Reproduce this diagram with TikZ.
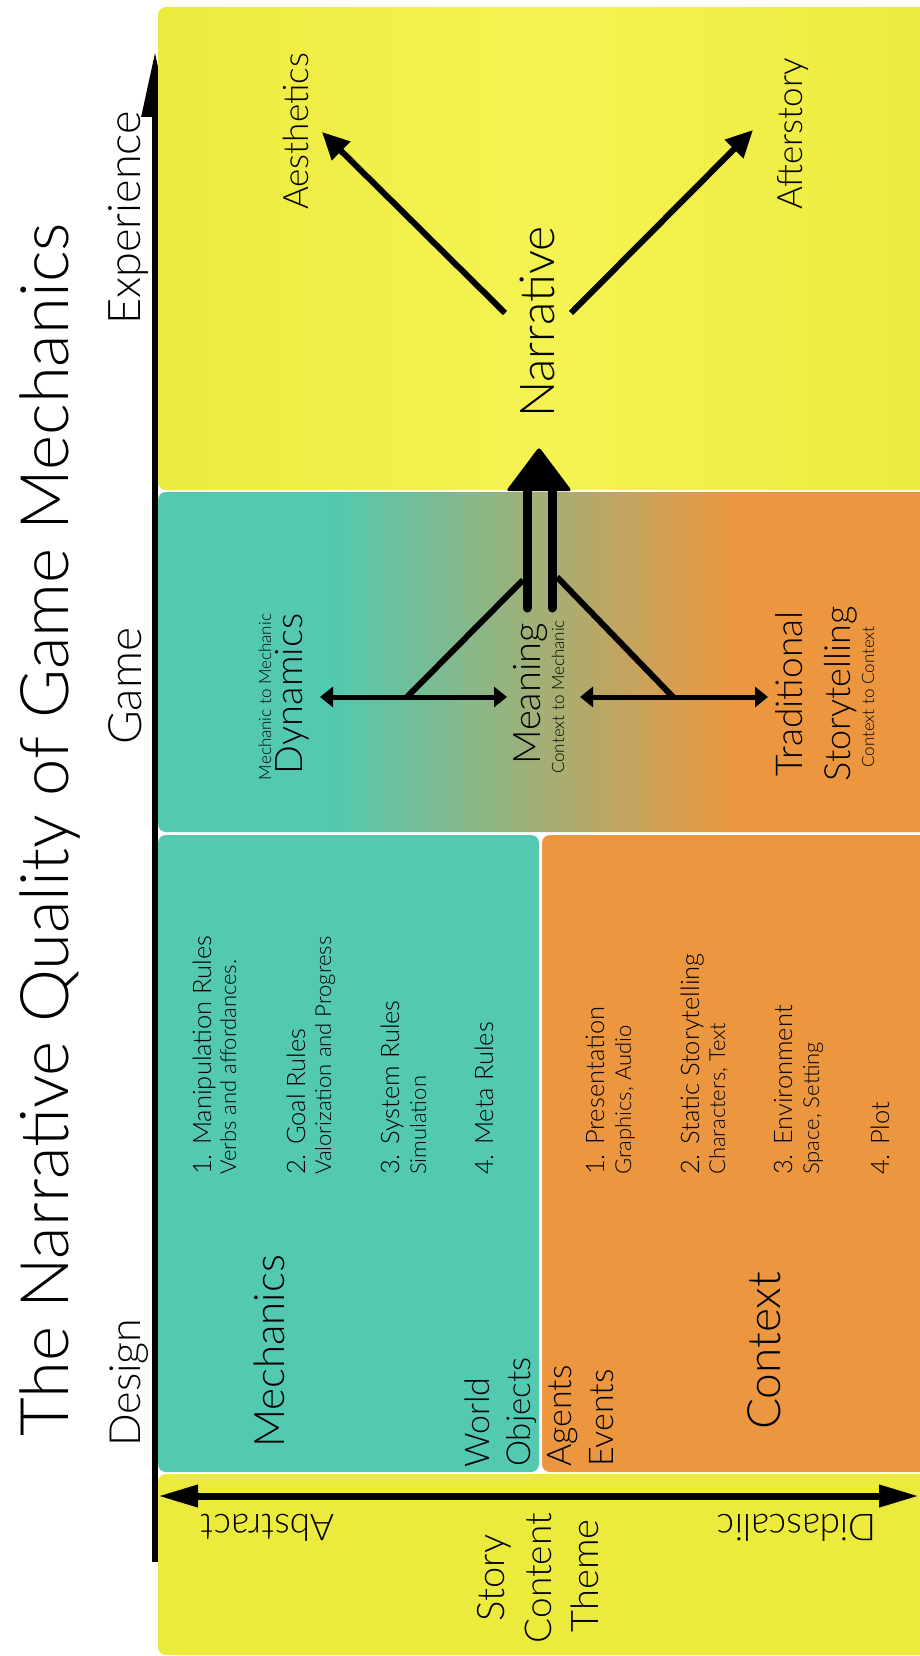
\documentclass[tikz,border=0pt]{standalone}
\usepackage{fontspec}
\setmainfont{Lato Light}
\usepackage{xcolor}
\usetikzlibrary{arrows.meta}
\definecolor{ylw}{RGB}{237,234,62}
\definecolor{ylwlight}{RGB}{245,243,82}
\definecolor{mechteal}{RGB}{82,201,176}
\definecolor{ctxorange}{RGB}{236,151,64}
\pgfdeclarehorizontalshading{yellowband}{100bp}{color(0bp)=(ylw); color(25bp)=(ylw); color(50bp)=(ylwlight); color(75bp)=(ylw); color(100bp)=(ylw)}
\pgfdeclarehorizontalshading{tealtoorange}{100bp}{color(0bp)=(mechteal); color(36bp)=(mechteal); color(62bp)=(ctxorange); color(100bp)=(ctxorange)}
\newcommand{\fsz}[1]{\fontsize{#1}{#1}\selectfont}

\begin{document}
\begin{tikzpicture}[x=1pt,y=-1pt,
  vitem/.style={rotate=90,inner sep=0pt,anchor=base west},
  vlabel/.style={rotate=90,inner sep=0pt,anchor=base},
  flow/.style={line width=6pt,-{Triangle[length=27pt,width=25pt]}},
  link/.style={line width=5pt,{Triangle[length=13pt,width=20pt]}-{Triangle[length=13pt,width=20pt]}}]
  \useasboundingbox (0,0) rectangle (919,1656);
  \fill[white] (0,0) rectangle (919,1656);
  \coordinate (axbot) at (155,1562);
  \coordinate (axtop) at (155,52);
  \draw[line width=6pt,-{Triangle[length=65pt,width=26pt]}] (axbot) -- (axtop);
  \shade[shading=yellowband,rounded corners=8pt] (158,7) rectangle (935,490);
  \shade[shading=tealtoorange,rounded corners=8pt] (158,492) rectangle (935,832);
  \fill[mechteal,rounded corners=8pt] (158,835) rectangle (539,1472);
  \fill[ctxorange,rounded corners=8pt] (542,835) rectangle (935,1472);
  \fill[ylw,rounded corners=8pt] (158,1474) rectangle (935,1655);
  \coordinate (abs) at (158,1496);
  \coordinate (did) at (919,1496);
  \draw[line width=7pt,{Triangle[length=40pt,width=21pt]}-{Triangle[length=40pt,width=21pt]}] (abs) -- (did);

  \node[vitem,font=\fsz{67}] (title) at (68,1437) {The Narrative Quality of Game Mechanics};
  \node[vitem,font=\fsz{43}] (design) at (140,1447) {Design};
  \node[vitem,font=\fsz{46}] (game) at (141,745) {Game};
  \node[vitem,font=\fsz{45}] (experience) at (140,325) {Experience};

  \node[vitem,font=\fsz{35}] (aesthetics) at (308,210) {Aesthetics};
  \node[vitem,font=\fsz{35}] (afterstory) at (802,210) {Afterstory};
  \node[vitem,font=\fsz{48}] (narrative) at (554,418) {Narrative};
  \coordinate (nl) at (505,313);
  \coordinate (nr) at (571,313);
  \coordinate (aestip) at (322,132);
  \coordinate (afttip) at (753,130);
  \draw[flow] (nl) -- (aestip);
  \draw[flow] (nr) -- (afttip);

  \node[vlabel,font=\fsz{17}] (mtm) at (271,697) {Mechanic to Mechanic};
  \node[vlabel,font=\fsz{38}] (dynamics) at (302,694) {Dynamics};
  \node[vlabel,font=\fsz{38}] (meaning) at (540,694) {Meaning};
  \node[vlabel,font=\fsz{17}] (ctm) at (564,697) {Context to Mechanic};
  \node[vlabel,font=\fsz{37}] (traditional) at (802,694) {Traditional};
  \node[vlabel,font=\fsz{36}] (storytelling) at (850,694) {Storytelling};
  \node[vlabel,font=\fsz{17}] (ctc) at (874,697) {Context to Context};

  \coordinate (shl) at (527,608);
  \coordinate (shr) at (552,608);
  \coordinate (hbl) at (527,488);
  \coordinate (hbr) at (552,488);
  \coordinate (headtip) at (539,447);
  \coordinate (footl) at (407,697);
  \coordinate (footr) at (673,697);
  \draw[line width=9pt,line cap=round] (shl) -- (hbl);
  \draw[line width=9pt,line cap=round] (shr) -- (hbr);
  \fill[rounded corners=3pt] (506,491) -- (headtip) -- (572,491) -- cycle;
  \draw[line width=6pt] (523,580) -- (footl);
  \draw[line width=6pt] (557,577) -- (footr);
  \coordinate (dynend) at (320,697);
  \coordinate (meanl) at (507,697);
  \coordinate (meanr) at (580,697);
  \coordinate (tradend) at (768,697);
  \draw[link] (dynend) -- (meanl);
  \draw[link] (meanr) -- (tradend);

  \node[vitem,font=\fsz{25.5}] (m1) at (211,1175) {1. Manipulation Rules};
  \node[vitem,font=\fsz{22}] (m1s) at (236,1175) {Verbs and affordances.};
  \node[vitem,font=\fsz{25.5}] (m2) at (305,1175) {2. Goal Rules};
  \node[vitem,font=\fsz{22}] (m2s) at (331,1175) {Valorization and Progress};
  \node[vitem,font=\fsz{25.5}] (m3) at (399,1175) {3. System Rules};
  \node[vitem,font=\fsz{22}] (m3s) at (426,1175) {Simulation};
  \node[vitem,font=\fsz{25.5}] (m4) at (493,1175) {4. Meta Rules};

  \node[vitem,font=\fsz{25.5}] (c1) at (604,1175) {1. Presentation};
  \node[vitem,font=\fsz{22}] (c1s) at (631,1175) {Graphics, Audio};
  \node[vitem,font=\fsz{25.5}] (c2) at (699,1175) {2. Static Storytelling};
  \node[vitem,font=\fsz{22}] (c2s) at (725,1175) {Characters, Text};
  \node[vitem,font=\fsz{25.5}] (c3) at (792,1175) {3. Environment};
  \node[vitem,font=\fsz{22}] (c3s) at (819,1175) {Space, Setting};
  \node[vitem,font=\fsz{25.5}] (c4) at (889,1175) {4. Plot};

  \node[vitem,font=\fsz{42}] (mechanics) at (284,1448) {Mechanics};
  \node[vitem,font=\fsz{46}] (context) at (780,1430) {Context};
  \node[vitem,font=\fsz{34}] (world) at (489,1468) {World};
  \node[vitem,font=\fsz{33}] (objects) at (530,1467) {Objects};
  \node[vitem,font=\fsz{34}] (agents) at (571,1467) {Agents};
  \node[vitem,font=\fsz{34}] (events) at (613,1467) {Events};

  \node[vlabel,font=\fsz{38}] (story) at (504,1578) {Story};
  \node[vlabel,font=\fsz{37}] (content) at (551,1578) {Content};
  \node[vlabel,font=\fsz{38}] (theme) at (598,1576) {Theme};
  \node[rotate=180,inner sep=0pt,font=\fsz{37}] (abstract) at (268,1528) {Abstract};
  \node[rotate=180,inner sep=0pt,font=\fsz{37}] (didascalic) at (797,1528) {Didascalic};
\end{tikzpicture}
\end{document}
